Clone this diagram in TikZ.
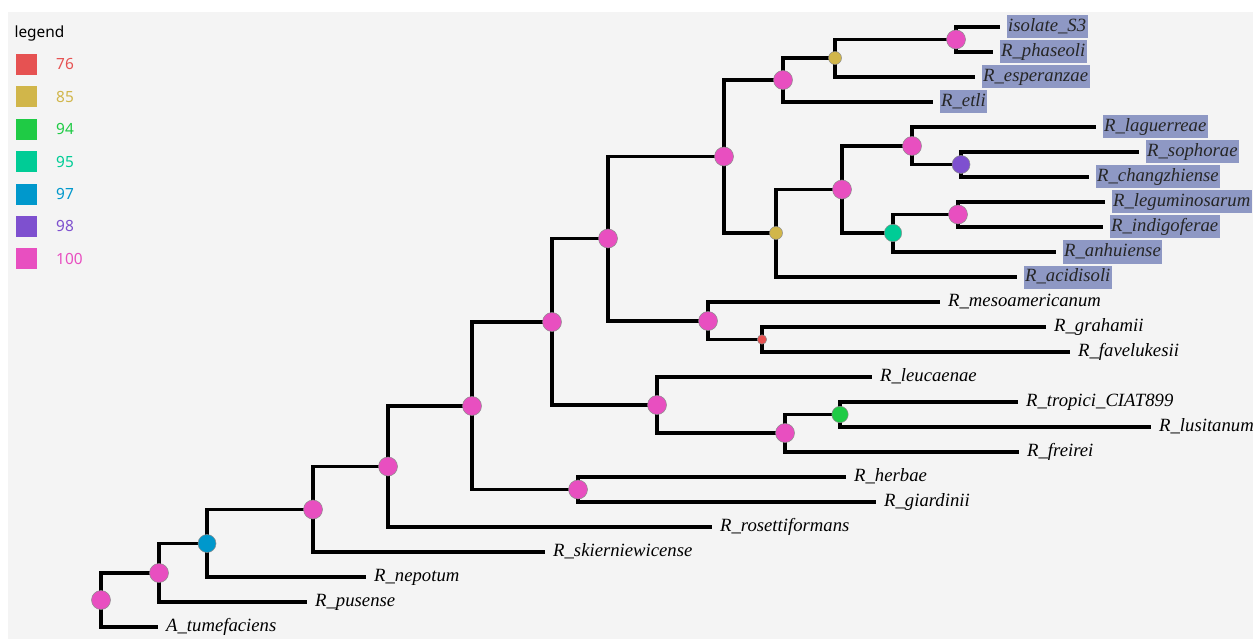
\documentclass[tikz,border=0pt]{standalone}
\usepackage{fontspec}
\setmainfont{Liberation Serif}
\newfontfamily\keyfont{Noto Sans}
\usepackage{tikz}
\usetikzlibrary{positioning,backgrounds}
\definecolor{bggrey}{HTML}{F4F4F4}
\definecolor{hlblue}{HTML}{8E98C4}
\definecolor{cA}{HTML}{E65252}% 76
\definecolor{cB}{HTML}{D1B64A}% 85
\definecolor{cC}{HTML}{1FCB45}% 94
\definecolor{cD}{HTML}{00CC96}% 95
\definecolor{cE}{HTML}{0098CC}% 97
\definecolor{cF}{HTML}{7E50CF}% 98
\definecolor{cG}{HTML}{E84FC0}% 100

\begin{document}
\begin{tikzpicture}[x=1pt, y=-1pt,
  boot/.style={circle, draw=black!45, line width=0.5pt, inner sep=0pt},
  bsA/.style={boot, fill=cA, minimum size=9.4pt},
  bsB/.style={boot, fill=cB, minimum size=13pt},
  bsC/.style={boot, fill=cC, minimum size=16.4pt},
  bsD/.style={boot, fill=cD, minimum size=17.4pt},
  bsE/.style={boot, fill=cE, minimum size=18pt},
  bsF/.style={boot, fill=cF, minimum size=18pt},
  bsG/.style={boot, fill=cG, minimum size=19pt},
  taxon/.style={anchor=west, xshift=6.5pt, inner xsep=1.5pt, inner ysep=0pt,
    text height=13.5pt, text depth=4.5pt, minimum height=23pt,
    font=\fontsize{18.7}{20}\selectfont\itshape},
  hilite/.style={taxon, fill=hlblue, text=black!85},
  branch/.style={line width=3.3pt},
  keybox/.style={minimum size=21pt, inner sep=0pt},
  keylab/.style={font=\keyfont\fontsize{15.4}{18}\selectfont}
]
\useasboundingbox (0,0) rectangle (1253,639);

% leaf ends
\coordinate (lS3) at (1000,27);
\coordinate (lpha) at (993,52);
\coordinate (lesp) at (975,77);
\coordinate (letl) at (933,102);
\coordinate (llag) at (1096,127);
\coordinate (lsop) at (1139,152);
\coordinate (lcha) at (1089,177);
\coordinate (lleg) at (1105,202);
\coordinate (lind) at (1103,227);
\coordinate (lanh) at (1056,252);
\coordinate (laci) at (1017,277);
\coordinate (lmes) at (940,302);
\coordinate (lgra) at (1046,327);
\coordinate (lfav) at (1070,352);
\coordinate (lleu) at (872,377);
\coordinate (ltro) at (1018,402);
\coordinate (llus) at (1151,427);
\coordinate (lfre) at (1019,452);
\coordinate (lher) at (846,477);
\coordinate (lgia) at (876,502);
\coordinate (lros) at (712,527);
\coordinate (lski) at (545,552);
\coordinate (lnep) at (366,577);
\coordinate (lpus) at (307,602);
\coordinate (ltum) at (158,627);

% taxon labels
\node[hilite] (tS3) at (lS3) {isolate\_S3};
\node[hilite] (tpha) at (lpha) {R\_phaseoli};
\node[hilite] (tesp) at (lesp) {R\_esperanzae};
\node[hilite] (tetl) at (letl) {R\_etli};
\node[hilite] (tlag) at (llag) {R\_laguerreae};
\node[hilite] (tsop) at (lsop) {R\_sophorae};
\node[hilite] (tcha) at (lcha) {R\_changzhiense};
\node[hilite] (tleg) at (lleg) {R\_leguminosarum};
\node[hilite] (tind) at (lind) {R\_indigoferae};
\node[hilite] (tanh) at (lanh) {R\_anhuiense};
\node[hilite] (taci) at (laci) {R\_acidisoli};
\node[taxon] (tmes) at (lmes) {R\_mesoamericanum};
\node[taxon] (tgra) at (lgra) {R\_grahamii};
\node[taxon] (tfav) at (lfav) {R\_favelukesii};
\node[taxon] (tleu) at (lleu) {R\_leucaenae};
\node[taxon] (ttro) at (ltro) {R\_tropici\_CIAT899};
\node[taxon] (tlus) at (llus) {R\_lusitanum};
\node[taxon] (tfre) at (lfre) {R\_freirei};
\node[taxon] (ther) at (lher) {R\_herbae};
\node[taxon] (tgia) at (lgia) {R\_giardinii};
\node[taxon] (tros) at (lros) {R\_rosettiformans};
\node[taxon] (tski) at (lski) {R\_skierniewicense};
\node[taxon] (tnep) at (lnep) {R\_nepotum};
\node[taxon] (tpus) at (lpus) {R\_pusense};
\node[taxon] (ttum) at (ltum) {A\_tumefaciens};

% internal nodes (bootstrap support)
\node[bsG] (n17) at (956,39.5) {};
\node[bsB] (n16) at (835,58) {};
\node[bsG] (n14) at (783,80) {};
\node[bsF] (n21) at (961,164.5) {};
\node[bsG] (n19) at (912,146) {};
\node[bsG] (n22) at (958,214.5) {};
\node[bsD] (n20) at (893,233) {};
\node[bsG] (n18) at (842,189.5) {};
\node[bsB] (n15) at (776,233) {};
\node[bsG] (n11) at (724,156.5) {};
\node[bsA] (n13) at (762,339.5) {};
\node[bsG] (n12) at (708,321) {};
\node[bsG] (n7) at (608,238.5) {};
\node[bsC] (n10) at (840,414.5) {};
\node[bsG] (n9) at (785,433) {};
\node[bsG] (n8) at (657,405) {};
\node[bsG] (n6) at (552,322) {};
\node[bsG] (nhg) at (578,489.5) {};
\node[bsG] (n5) at (472,406) {};
\node[bsG] (n4) at (388,466.5) {};
\node[bsG] (n3) at (313,509.5) {};
\node[bsE] (n2) at (207,543.5) {};
\node[bsG] (n1) at (159,573) {};
\node[bsG] (n0) at (101,600) {};

% legend
\node[keylab, anchor=west] (legend) at (11,33) {legend};
\node[keybox, fill=cA] (kA) at (26,64.5) {};
\node[keybox, fill=cB, below=11pt of kA] (kB) {};
\node[keybox, fill=cC, below=11pt of kB] (kC) {};
\node[keybox, fill=cD, below=11pt of kC] (kD) {};
\node[keybox, fill=cE, below=11pt of kD] (kE) {};
\node[keybox, fill=cF, below=11pt of kE] (kF) {};
\node[keybox, fill=cG, below=11pt of kF] (kG) {};
\node[keylab, text=cA, right=16pt of kA] (vA) {76};
\node[keylab, text=cB, right=16pt of kB] (vB) {85};
\node[keylab, text=cC, right=16pt of kC] (vC) {94};
\node[keylab, text=cD, right=16pt of kD] (vD) {95};
\node[keylab, text=cE, right=16pt of kE] (vE) {97};
\node[keylab, text=cF, right=16pt of kF] (vF) {98};
\node[keylab, text=cG, right=16pt of kG] (vG) {100};

\begin{scope}[on background layer]
\fill[bggrey] (8,12) rectangle (1253,639);
\draw[branch] (n17.center) |- (lS3);
\draw[branch] (n17.center) |- (lpha);
\draw[branch] (n16.center) |- (n17.center);
\draw[branch] (n16.center) |- (lesp);
\draw[branch] (n14.center) |- (n16.center);
\draw[branch] (n14.center) |- (letl);
\draw[branch] (n21.center) |- (lsop);
\draw[branch] (n21.center) |- (lcha);
\draw[branch] (n19.center) |- (llag);
\draw[branch] (n19.center) |- (n21.center);
\draw[branch] (n22.center) |- (lleg);
\draw[branch] (n22.center) |- (lind);
\draw[branch] (n20.center) |- (n22.center);
\draw[branch] (n20.center) |- (lanh);
\draw[branch] (n18.center) |- (n19.center);
\draw[branch] (n18.center) |- (n20.center);
\draw[branch] (n15.center) |- (n18.center);
\draw[branch] (n15.center) |- (laci);
\draw[branch] (n11.center) |- (n14.center);
\draw[branch] (n11.center) |- (n15.center);
\draw[branch] (n13.center) |- (lgra);
\draw[branch] (n13.center) |- (lfav);
\draw[branch] (n12.center) |- (lmes);
\draw[branch] (n12.center) |- (n13.center);
\draw[branch] (n7.center) |- (n11.center);
\draw[branch] (n7.center) |- (n12.center);
\draw[branch] (n10.center) |- (ltro);
\draw[branch] (n10.center) |- (llus);
\draw[branch] (n9.center) |- (n10.center);
\draw[branch] (n9.center) |- (lfre);
\draw[branch] (n8.center) |- (lleu);
\draw[branch] (n8.center) |- (n9.center);
\draw[branch] (n6.center) |- (n7.center);
\draw[branch] (n6.center) |- (n8.center);
\draw[branch] (nhg.center) |- (lher);
\draw[branch] (nhg.center) |- (lgia);
\draw[branch] (n5.center) |- (n6.center);
\draw[branch] (n5.center) |- (nhg.center);
\draw[branch] (n4.center) |- (n5.center);
\draw[branch] (n4.center) |- (lros);
\draw[branch] (n3.center) |- (n4.center);
\draw[branch] (n3.center) |- (lski);
\draw[branch] (n2.center) |- (n3.center);
\draw[branch] (n2.center) |- (lnep);
\draw[branch] (n1.center) |- (n2.center);
\draw[branch] (n1.center) |- (lpus);
\draw[branch] (n0.center) |- (n1.center);
\draw[branch] (n0.center) |- (ltum);
\end{scope}
\end{tikzpicture}
\end{document}
